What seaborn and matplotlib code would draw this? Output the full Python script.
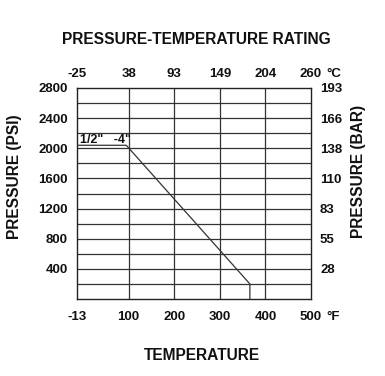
import matplotlib
matplotlib.use("Agg")
import matplotlib.pyplot as plt
import seaborn as sns
import pandas as pd

# Data
temp_f = [-13, 95, 366, 366]
pressure_psi = [2040, 2040, 200, 0]
series_label = '1/2"   -4"'

f_ticks = [-13, 100, 200, 300, 400, 500]
f_labels = ["-13", "100", "200", "300", "400", "500"]
c_labels = ["-25", "38", "93", "149", "204", "260"]
psi_ticks = [400, 800, 1200, 1600, 2000, 2400, 2800]
psi_labels = ["400", "800", "1200", "1600", "2000", "2400", "2800"]
bar_labels = ["28", "55", "83", "110", "138", "166", "193"]
psi_grid = [200, 400, 600, 800, 1000, 1200, 1400, 1600, 1800, 2000, 2200, 2400, 2600]
f_grid = [100, 200, 300, 400]

sns.set_style("white")
plt.rcParams["font.family"] = ["Liberation Sans", "DejaVu Sans"]
plt.rcParams["font.weight"] = "bold"
TXT = "#111111"
plt.rcParams["text.color"] = TXT
plt.rcParams["xtick.color"] = TXT
plt.rcParams["ytick.color"] = TXT

W, H = 385, 376
fig = plt.figure(figsize=(3.85, 3.76), dpi=100)
ax = fig.add_axes([77/W, 1-299/H, (311-77)/W, (299-88)/H])

df = pd.DataFrame({"F": temp_f, "PSI": pressure_psi})
for y in psi_grid:
    ax.axhline(y, color="#333333", lw=0.9, zorder=1)
for x in f_grid:
    ax.axvline(x, color="#333333", lw=0.9, zorder=1)
sns.lineplot(data=df, x="F", y="PSI", sort=False, estimator=None,
             color="#333333", lw=0.9, ax=ax, zorder=3)

ax.set_xlim(-13, 500)
ax.set_ylim(0, 2800)
for s in ax.spines.values():
    s.set_color("#222222")
    s.set_linewidth(1.0)

fs = 9.5
ax.set_xticks(f_ticks)
ax.set_xticklabels(f_labels, fontsize=fs, fontweight="bold", color=TXT)
ax.set_yticks(psi_ticks)
ax.set_yticklabels(psi_labels, fontsize=fs, fontweight="bold", color=TXT)
ax.tick_params(axis="x", length=0, pad=8.3)
ax.tick_params(axis="y", length=0, pad=6.5)
ax.set_xlabel("")
ax.set_ylabel("")

axt = ax.twiny()
axt.set_xlim(ax.get_xlim())
axt.set_xticks(f_ticks)
axt.set_xticklabels(c_labels, fontsize=fs, fontweight="bold", color=TXT)
axt.tick_params(axis="x", length=0, pad=6)

axr = ax.twinx()
axr.set_ylim(ax.get_ylim())
axr.set_yticks(psi_ticks)
axr.set_yticklabels(bar_labels, fontsize=fs, fontweight="bold", color=TXT)
axr.tick_params(axis="y", length=0, pad=6.5)
for a in (axt, axr):
    for s in a.spines.values():
        s.set_visible(False)

ax.text(-6.5, 2070, series_label, fontsize=9, fontweight="bold", ha="left", va="baseline",
        color=TXT, zorder=4)

fig.text(326/W, 1-(299 + 8.3*100/72)/H, "°F", fontsize=fs, fontweight="bold", ha="left", va="top")
fig.text(326/W, 1-(88 - 6*100/72)/H, "°C", fontsize=fs, fontweight="bold", ha="left", va="bottom")
tfs = 11.2
fig.text(196/W, 1-39/H, "PRESSURE-TEMPERATURE RATING", fontsize=tfs, fontweight="bold",
         ha="center", va="center")
fig.text(202/W, 1-355/H, "TEMPERATURE", fontsize=tfs, fontweight="bold",
         ha="center", va="center")
fig.text(15/W, 1-177/H, "PRESSURE (PSI)", fontsize=tfs, fontweight="bold",
         rotation=90, ha="center", va="center")
fig.text(358/W, 1-171/H, "PRESSURE (BAR)", fontsize=tfs, fontweight="bold",
         rotation=90, ha="center", va="center")

fig.savefig("out.png", dpi=100)
